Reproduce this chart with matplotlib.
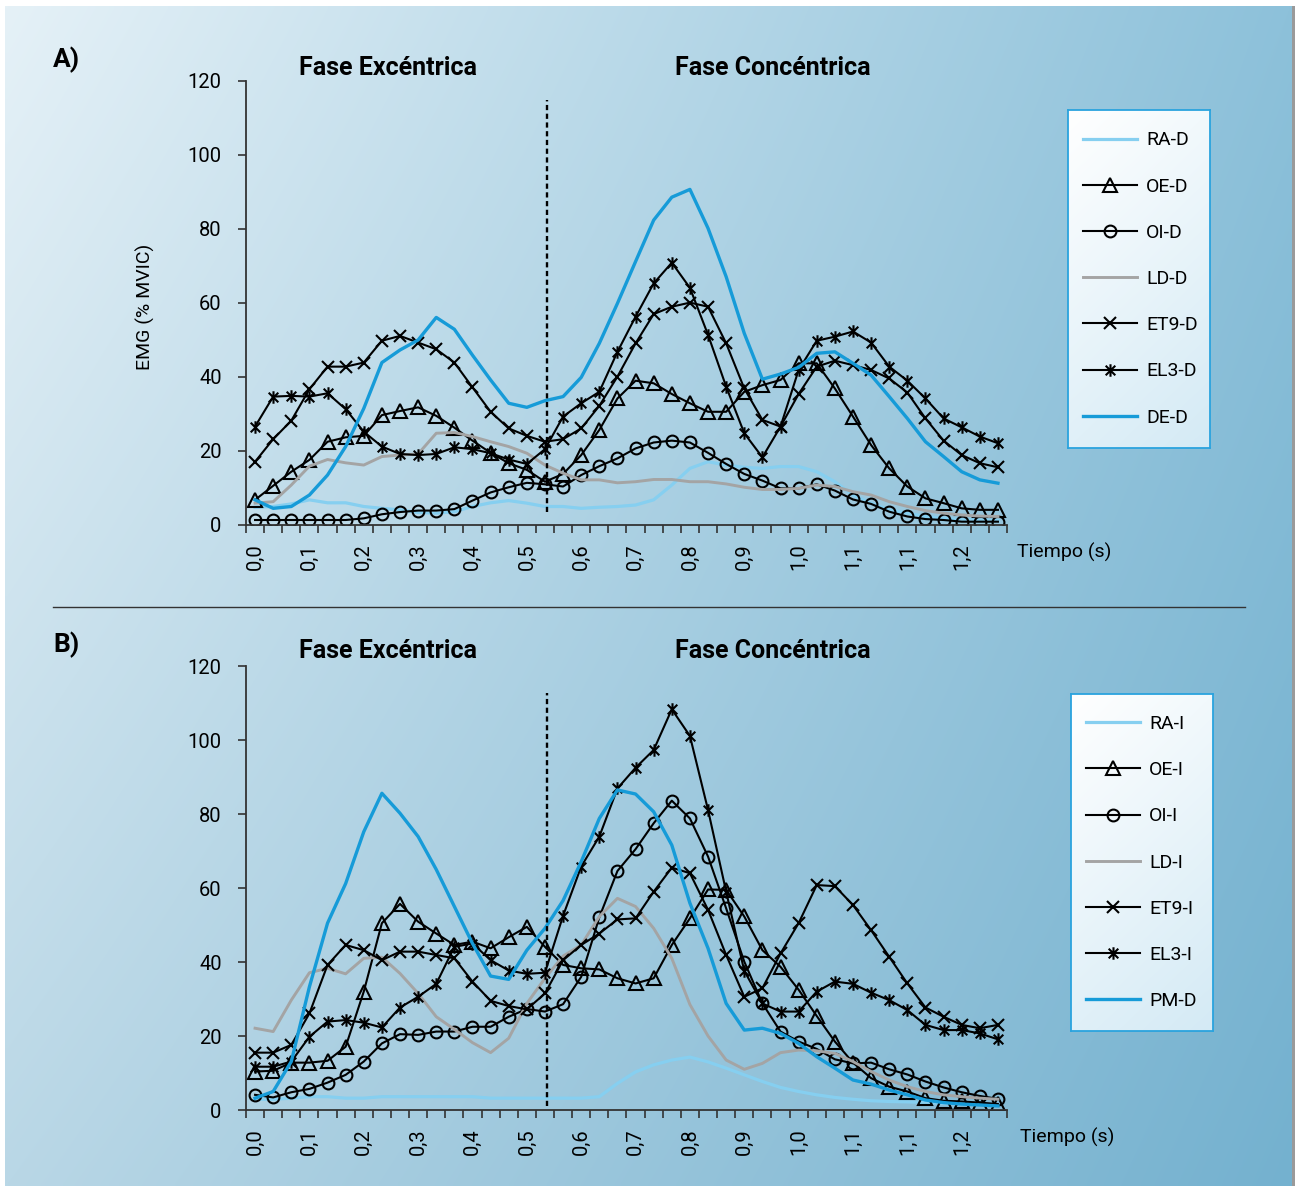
import numpy as np
import matplotlib
matplotlib.use('Agg')
import matplotlib.pyplot as plt
from matplotlib.colors import to_rgb
from matplotlib.lines import Line2D
from matplotlib.patches import Rectangle
from matplotlib.path import Path

W, H = 1295, 1186

time_labels = ['0,0', '0,1', '0,2', '0,3', '0,4', '0,5', '0,6',
               '0,7', '0,8', '0,9', '1,0', '1,1', '1,1', '1,2']
phase_split = 16.1

# panel A (right side)
ra_d = [4.8, 5.0, 5.7, 6.8, 6.0, 6.0, 5.0, 4.5, 4.1, 3.4, 3.2, 3.6, 5.0, 6.0, 6.6, 5.9, 5.0, 5.0, 4.5, 4.8, 5.0,
        5.4, 6.8, 10.8, 15.3, 17.1, 16.2, 15.6, 15.3, 15.8, 15.8, 14.4, 11.7, 8.1, 5.9, 4.1, 3.2, 2.3, 1.8, 1.4, 1.4, 1.2]
oe_d = [6.8, 10.6, 14.4, 17.6, 22.5, 23.7, 24.1, 29.7, 30.8, 31.8, 29.5, 26.3, 22.8, 19.5, 16.7, 14.9, 11.7, 13.8, 18.9, 25.7, 34.2,
        39.0, 38.3, 35.4, 32.9, 30.6, 30.6, 36.0, 37.8, 39.2, 43.7, 43.7, 36.9, 29.3, 21.6, 15.3, 10.4, 7.2, 5.9, 4.5, 4.1, 4.1]
oi_d = [1.35, 1.35, 1.35, 1.35, 1.35, 1.35, 1.8, 2.9, 3.5, 3.9, 3.9, 4.3, 6.6, 8.8, 10.2, 11.4, 11.0, 10.4, 13.5, 15.9, 18.0,
        20.7, 22.3, 22.8, 22.3, 19.5, 16.5, 13.8, 12.0, 9.9, 9.9, 11.0, 9.3, 6.9, 5.7, 3.6, 2.3, 1.6, 1.35, 0.9, 0.9, 0.9]
ld_d = [5.9, 6.3, 10.8, 15.9, 17.7, 16.8, 16.2, 18.5, 18.9, 19.2, 24.8, 25.0, 23.9, 22.5, 21.2, 19.4, 16.2, 14.0, 12.2, 12.2, 11.4,
        11.7, 12.3, 12.3, 11.7, 11.7, 11.1, 10.2, 9.6, 9.6, 9.9, 10.8, 10.4, 9.0, 8.1, 6.3, 5.0, 3.9, 3.2, 2.7, 2.4, 2.3]
et9_d = [17.1, 23.2, 28.2, 36.7, 42.8, 42.8, 43.9, 49.8, 51.1, 49.3, 47.5, 43.9, 37.2, 30.6, 26.1, 24.1, 22.5, 23.2, 26.1, 32.2, 40.1,
         49.1, 57.0, 59.0, 60.1, 59.0, 49.1, 36.9, 28.4, 26.6, 35.4, 42.8, 44.4, 43.2, 41.9, 39.6, 35.8, 28.8, 22.8, 18.9, 16.7, 15.6]
el3_d = [26.6, 34.7, 34.9, 34.7, 35.6, 31.3, 25.2, 21.2, 19.2, 18.9, 19.2, 21.0, 20.5, 19.4, 17.7, 16.5, 20.5, 29.3, 32.9, 36.0, 46.8,
         56.3, 65.3, 70.9, 64.1, 51.4, 37.4, 24.8, 18.3, 26.6, 41.9, 49.8, 50.9, 52.3, 49.3, 42.8, 39.0, 34.2, 28.8, 26.4, 23.9, 22.1]
de_d = [6.8, 4.5, 5.0, 8.1, 13.5, 21.2, 31.5, 43.9, 47.3, 50.0, 56.1, 52.9, 45.9, 39.2, 32.9, 31.8, 33.6, 34.7, 39.9, 49.1, 59.9,
        71.2, 82.4, 88.6, 90.7, 80.2, 67.1, 51.8, 39.4, 40.8, 42.6, 46.4, 46.8, 43.7, 40.5, 34.7, 28.8, 22.5, 18.5, 14.4, 12.2, 11.3]

# panel B (left side)
ra_i = [2.9, 2.9, 3.2, 3.6, 3.6, 3.2, 3.2, 3.6, 3.6, 3.6, 3.6, 3.6, 3.6, 3.2, 3.2, 3.2, 3.2, 3.2, 3.2, 3.6, 7.2,
        10.3, 12.2, 13.5, 14.3, 13.0, 11.3, 9.5, 7.7, 6.1, 5.0, 4.1, 3.4, 2.9, 2.5, 2.3, 2.2, 2.0, 1.8, 1.6, 1.5, 1.4]
oe_i = [10.4, 10.6, 12.8, 12.8, 13.3, 17.1, 32.0, 50.5, 55.7, 50.9, 47.7, 44.6, 45.5, 43.7, 46.7, 49.5, 44.1, 39.2, 38.3, 38.0, 35.6,
        34.2, 35.6, 44.6, 51.8, 59.6, 59.5, 52.3, 43.2, 38.7, 32.5, 25.4, 18.5, 12.8, 8.6, 6.3, 5.0, 3.2, 2.5, 2.3, 2.0, 1.6]
oi_i = [4.1, 3.4, 4.8, 5.7, 7.4, 9.5, 13.1, 18.0, 20.5, 20.3, 21.2, 21.2, 22.5, 22.5, 25.2, 27.3, 26.6, 28.6, 36.0, 52.1, 64.6,
        70.5, 77.5, 83.6, 78.8, 68.5, 54.5, 40.1, 28.8, 21.2, 18.5, 16.5, 13.7, 12.6, 12.8, 11.0, 9.6, 7.7, 6.1, 4.8, 3.8, 3.0]
ld_i = [22.1, 21.2, 29.7, 37.1, 38.3, 36.8, 41.0, 41.3, 36.9, 31.5, 25.2, 21.8, 18.2, 15.5, 19.4, 28.8, 35.6, 41.6, 44.6, 52.3, 57.2,
        55.0, 49.1, 41.0, 28.5, 20.0, 13.5, 11.0, 12.6, 15.5, 16.2, 16.0, 15.3, 13.1, 10.4, 8.1, 6.3, 5.0, 4.1, 3.6, 3.2, 2.9]
et9_i = [15.5, 15.5, 17.6, 26.1, 39.2, 44.6, 43.2, 40.5, 42.8, 42.8, 41.9, 41.0, 34.7, 29.5, 28.1, 27.2, 31.5, 40.5, 44.6, 47.7, 51.5,
         51.8, 59.0, 65.5, 64.0, 54.1, 41.9, 30.6, 32.9, 42.3, 50.5, 60.8, 60.5, 55.4, 48.6, 41.4, 34.2, 27.7, 25.2, 23.0, 22.1, 23.0]
el3_i = [11.7, 11.7, 13.1, 19.8, 23.9, 24.3, 23.6, 22.3, 27.7, 30.6, 34.1, 44.1, 45.0, 40.5, 37.7, 36.8, 37.1, 52.5, 65.8, 73.9, 86.9,
         92.5, 97.3, 108.3, 101.1, 81.1, 59.0, 37.6, 28.8, 26.6, 26.6, 32.0, 34.7, 34.1, 31.7, 29.7, 27.0, 23.0, 21.6, 21.6, 20.7, 19.1]
pm_d = [3.2, 5.0, 13.1, 33.3, 50.5, 61.2, 75.2, 85.6, 80.2, 73.9, 65.0, 55.0, 45.0, 36.2, 35.3, 43.2, 49.1, 56.6, 67.1, 78.8, 86.5,
        85.4, 80.6, 71.6, 55.9, 43.7, 28.8, 21.6, 22.1, 20.7, 18.0, 14.4, 11.3, 8.1, 7.0, 5.4, 4.1, 2.7, 2.0, 1.6, 1.35, 1.1]

plt.rcParams['font.family'] = ['Roboto', 'DejaVu Sans']

# excel style star: an x with a vertical bar through it
star = Path([(-1, -1), (1, 1), (-1, 1), (1, -1), (0, -1.3), (0, 1.3)],
            [Path.MOVETO, Path.LINETO] * 3)

light = dict(color='#86cff0', lw=2.3)
grey = dict(color='#a4a4a4', lw=2.1)
blue = dict(color='#169bd8', lw=2.4)
blk = dict(color='black', lw=1.5, mfc='none', mec='black', mew=1.5)
styles = [light,
          dict(blk, marker='^', ms=9.5),
          dict(blk, marker='o', ms=8.5),
          grey,
          dict(blk, marker='x', ms=9),
          dict(blk, marker=star, ms=9),
          blue]


def box(x0, y0, x1, y1):
    return [x0 / W, 1 - y1 / H, (x1 - x0) / W, (y1 - y0) / H]


def gradient(ax, tl, tr, bl, br, n=256):
    tl, tr, bl, br = [np.array(to_rgb(c)) for c in (tl, tr, bl, br)]
    u = np.linspace(0, 1, n)[None, :, None]
    v = np.linspace(0, 1, n)[:, None, None]
    img = (1 - u) * (1 - v) * tl + u * (1 - v) * tr + (1 - u) * v * bl + u * v * br
    ax.imshow(img, aspect='auto', extent=(0, 1, 0, 1), interpolation='bilinear')
    ax.set_xlim(0, 1)
    ax.set_ylim(0, 1)


fig = plt.figure(figsize=(W / 100, H / 100), dpi=100)

bg = fig.add_axes(box(5, 6, 1292, H))
bg.axis('off')
gradient(bg, '#e5f1f7', '#8dc1da', '#b9d7e6', '#74b1cf')
fig.add_artist(Rectangle((1292 / W, 0), 3 / W, 1 - 6 / H, transform=fig.transFigure,
                         color='#9a9a9a', lw=0))
fig.add_artist(Line2D([53 / W, 1245 / W], [1 - 607 / H] * 2, color='#333333', lw=1))


def panel(top, bottom, series, labels, dash, leg, tag, tag_y, head_y, tiempo, ylabel=None):
    ax = fig.add_axes(box(246, top, 1007, bottom))
    ax.patch.set_alpha(0)
    x = np.arange(len(series[0]))
    for vals, lab, st in zip(series, labels, styles):
        ax.plot(x, vals, label=lab, **st)
    ax.plot([phase_split, phase_split], dash, color='black', lw=1.7, ls=(0, (2.2, 1.5)))

    ax.set_xlim(-0.5, len(x) - 0.5)
    ax.set_ylim(0, 120)
    ax.set_yticks(np.arange(0, 121, 20))
    ax.set_xticks(np.arange(-0.5, len(x), 1))
    ax.set_xticklabels([])
    ax.set_xticks(np.arange(0, len(x), 3), minor=True)
    ax.set_xticklabels(time_labels, minor=True, rotation=90)
    ax.tick_params(axis='x', which='major', direction='out', length=5.5, width=1.2, color='#333333')
    ax.tick_params(axis='x', which='minor', length=0, pad=13, labelsize=14.5)
    ax.tick_params(axis='y', direction='out', length=5.5, width=1.2, color='#333333',
                   pad=12, labelsize=14.5)
    for s in ['top', 'right']:
        ax.spines[s].set_visible(False)
    for s in ['left', 'bottom']:
        ax.spines[s].set_color('#333333')
        ax.spines[s].set_linewidth(1.3)

    fig.text(53 / W, 1 - tag_y / H, tag, fontsize=19, fontweight='bold', va='center', ha='left')
    fig.text(388 / W, 1 - head_y / H, 'Fase Excéntrica', fontsize=18, fontweight='bold',
             ha='center', va='center')
    fig.text(773 / W, 1 - head_y / H, 'Fase Concéntrica', fontsize=18, fontweight='bold',
             ha='center', va='center')
    fig.text(tiempo[0] / W, 1 - tiempo[1] / H, 'Tiempo (s)', fontsize=14, ha='left', va='center')
    if ylabel:
        fig.text(145 / W, 1 - 307 / H, ylabel, fontsize=14, rotation=90, ha='center', va='center')

    lax = fig.add_axes(box(*leg))
    gradient(lax, '#ffffff', '#f2f9fc', '#e0f0f8', '#d4eaf5')
    lax.set_xticks([])
    lax.set_yticks([])
    for s in lax.spines.values():
        s.set_color('#2aa3de')
        s.set_linewidth(1.3)
    h, l = ax.get_legend_handles_labels()
    lax.legend(h[:7], l[:7], loc='center left', bbox_to_anchor=(15 / (leg[2] - leg[0]), 0.5),
               frameon=False, fontsize=14, handlelength=2.8, handletextpad=0.45,
               labelspacing=1.45, borderpad=0, borderaxespad=0, numpoints=1)
    return ax


panel(81, 525, [ra_d, oe_d, oi_d, ld_d, et9_d, el3_d, de_d],
      ['RA-D', 'OE-D', 'OI-D', 'LD-D', 'ET9-D', 'EL3-D', 'DE-D'],
      [3.5, 115], (1068, 110, 1210, 448), 'A)', 60, 68, (1017, 552), ylabel='EMG (% MVIC)')
panel(666, 1110, [ra_i, oe_i, oi_i, ld_i, et9_i, el3_i, pm_d],
      ['RA-I', 'OE-I', 'OI-I', 'LD-I', 'ET9-I', 'EL3-I', 'PM-D'],
      [1.1, 112.7], (1071, 694, 1213, 1031), 'B)', 645, 651, (1020, 1137))

fig.savefig('out.png', dpi=100)
